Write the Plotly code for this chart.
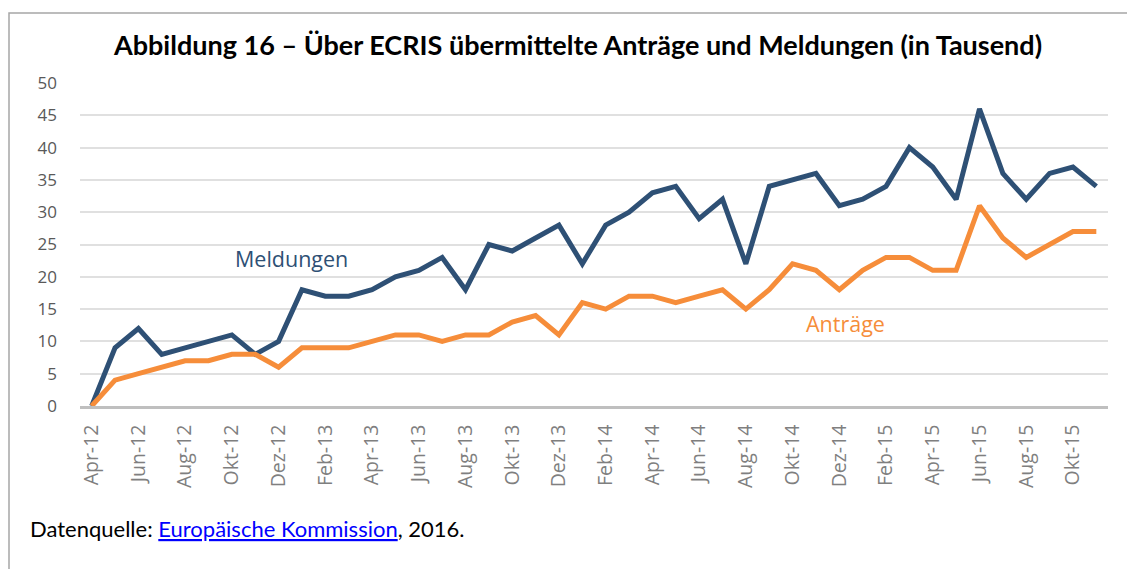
import plotly.graph_objects as go

# ---- data ----
months = ["Apr-12", "Mai-12", "Jun-12", "Jul-12", "Aug-12", "Sep-12", "Okt-12", "Nov-12", "Dez-12",
          "Jan-13", "Feb-13", "Mär-13", "Apr-13", "Mai-13", "Jun-13", "Jul-13", "Aug-13", "Sep-13",
          "Okt-13", "Nov-13", "Dez-13",
          "Jan-14", "Feb-14", "Mär-14", "Apr-14", "Mai-14", "Jun-14", "Jul-14", "Aug-14", "Sep-14",
          "Okt-14", "Nov-14", "Dez-14",
          "Jan-15", "Feb-15", "Mär-15", "Apr-15", "Mai-15", "Jun-15", "Jul-15", "Aug-15", "Sep-15",
          "Okt-15", "Nov-15"]
meldungen = [0, 9, 12, 8, 9, 10, 11, 8, 10,
             18, 17, 17, 18, 20, 21, 23, 18, 25, 24, 26, 28,
             22, 28, 30, 33, 34, 29, 32, 22, 34, 35, 36, 31,
             32, 34, 40, 37, 32, 46, 36, 32, 36, 37, 34]
antraege = [0, 4, 5, 6, 7, 7, 8, 8, 6,
            9, 9, 9, 10, 11, 11, 10, 11, 11, 13, 14, 11,
            16, 15, 17, 17, 16, 17, 18, 15, 18, 22, 21, 18,
            21, 23, 23, 21, 21, 31, 26, 23, 25, 27, 27]
tick_labels = months[::2]
y_ticks = list(range(0, 51, 5))

title_text = "Abbildung 16 – Über ECRIS übermittelte Anträge und Meldungen (in Tausend)"
source_text = ('Datenquelle: <span style="color:#0000FF"><u>Europäische Kommission</u></span>, 2016.')

# ---- layout geometry (window pixels; page body adds an 8px offset) ----
OFF = 8
W, H = 1135, 569
L, R, T, B = 80 - OFF, 1108 - OFF, 83 - OFF, 406 - OFF
def px(x):
    return (x - OFF - L) / (R - L)
def py(y):
    return (B - (y - OFF)) / (B - T)

BLUE = "#2E5075"
ORANGE = "#F68D3A"
FONT = "Open Sans"
TFONT = "Lato"

fig = go.Figure()
fig.add_trace(go.Scatter(x=months, y=meldungen, mode="lines", name="Meldungen",
                         line=dict(color=BLUE, width=5), hoverinfo="x+y"))
fig.add_trace(go.Scatter(x=months, y=antraege, mode="lines", name="Anträge",
                         line=dict(color=ORANGE, width=5), hoverinfo="x+y"))

fig.update_layout(
    width=W, height=H,
    margin=dict(l=L, r=W - R, t=T, b=H - B),
    paper_bgcolor="white", plot_bgcolor="white",
    showlegend=False,
    font=dict(family=FONT),
)
fig.update_xaxes(
    type="category", categoryorder="array", categoryarray=months,
    range=[-0.5, len(months) - 0.5],
    tickmode="array", tickvals=tick_labels, ticktext=tick_labels,
    tickangle=-90, tickfont=dict(family=FONT, size=19.5, color="#7F7F7F"),
    showgrid=False, showline=True, linecolor="#BFBFBF", linewidth=2.5,
    ticks="", ticklabelstandoff=8, zeroline=False,
)
fig.update_yaxes(
    range=[0, 50], tickmode="array", tickvals=y_ticks,
    tickfont=dict(family=FONT, size=17, color="#595959"),
    showgrid=True, gridcolor="#E0E0E0", gridwidth=2,
    zeroline=False, showline=False, ticks="", ticklabelstandoff=22,
)

# frame
fig.add_shape(type="rect", xref="paper", yref="paper",
              x0=px(9), x1=px(1133), y0=py(650), y1=py(13),
              line=dict(color="#A6A6A6", width=1.5), layer="below")

annotations = [
    dict(text="<b>" + title_text + "</b>", x=px(577), y=py(45),
         font=dict(family=TFONT, size=27, color="black")),
    dict(text="Meldungen", x=px(291), y=py(258),
         font=dict(family=FONT, size=21.5, color=BLUE)),
    dict(text="Anträge", x=px(845), y=py(323),
         font=dict(family=FONT, size=21.5, color=ORANGE)),
]
for a in annotations:
    fig.add_annotation(xref="paper", yref="paper", showarrow=False,
                       xanchor="center", yanchor="middle", **a)
fig.add_annotation(xref="paper", yref="paper", showarrow=False,
                   x=px(28), y=py(528), xanchor="left", yanchor="middle",
                   text=source_text, font=dict(family=TFONT, size=22, color="black"))

fig.write_html("out.html")
